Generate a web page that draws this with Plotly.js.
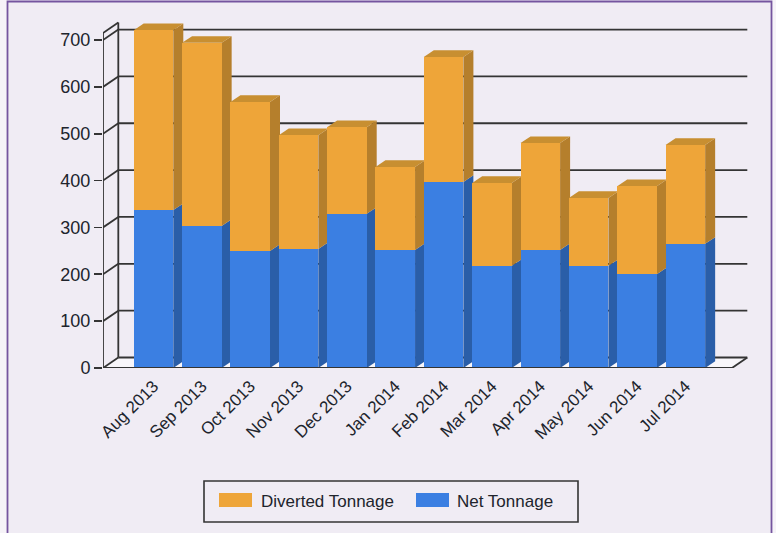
<!DOCTYPE html>
<html>
<head>
<meta charset="utf-8">
<script src="https://cdn.plot.ly/plotly-3.0.1.min.js"></script>
<style>html,body{margin:0;padding:0;background:#f6f3f8;}</style>
</head>
<body>
<div id="chart" style="width:776px;height:533px;"></div>
<script>
// Monthly tonnage, stacked: net at the bottom, diverted on top
const categories = ['Aug 2013','Sep 2013','Oct 2013','Nov 2013','Dec 2013','Jan 2014','Feb 2014','Mar 2014','Apr 2014','May 2014','Jun 2014','Jul 2014'];
const netTonnage = [337,303,250,254,329,252,397,218,252,218,200,265];
const divertedTonnage = [384,391,318,243,185,177,267,177,228,145,188,211];
const valueTicks = [0,100,200,300,400,500,600,700];
const seriesNames = ['Diverted Tonnage','Net Tonnage'];

// Pseudo-3D projection, expressed in axis units
const W = 776, H = 533;
const pitch = 48.35, unit = 0.4685;             // px per category, px per tonne
const left = 103, right = 750, base = 368, topPx = 10;
const xRange = [(left - 153.5) / pitch, (right - 153.5) / pitch];
const yRange = [0, (base - topPx) / unit];
const wallDx = 15.3 / pitch, wallDy = 10.5 / unit;
const barDx = 10 / pitch, barDy = 6.7 / unit;
const barW = 39.6 / pitch;
const xLeft = xRange[0], xFront = (732 - 153.5) / pitch, axisTop = 715;

const ORANGE = '#EEA539', ORANGE_SIDE = '#B57F2C', ORANGE_TOP = '#C88F31';
const BLUE = '#3B7FE2', BLUE_SIDE = '#2A5EA8';
const EDGE = '#343434', TEXT = '#20242c', FLOOR = '#F8F6FA';

// Floor plane, slightly lighter than the panel
const floorPlane = {
  type: 'scatter', mode: 'lines', fill: 'toself', fillcolor: FLOOR,
  x: [xLeft, xLeft + wallDx, xFront + wallDx, xFront, xLeft],
  y: [0, wallDy, wallDy, 0, 0],
  xaxis: 'x', yaxis: 'y', line: { width: 0 }, showlegend: false, hoverinfo: 'skip'
};

// Back wall, floor and the box edges
const fx = [], fy = [];
function seg(x0, y0, x1, y1) { fx.push(x0, x1, null); fy.push(y0, y1, null); }
valueTicks.forEach(v => {
  seg(xLeft, v, xLeft + wallDx, v + wallDy);
  seg(xLeft + wallDx, v + wallDy, xFront + wallDx, v + wallDy);
});
seg(xLeft, 0, xLeft, axisTop);
seg(xLeft + wallDx, wallDy, xLeft + wallDx, axisTop + wallDy);
seg(xLeft, axisTop, xLeft + wallDx, axisTop + wallDy);
seg(xFront, 0, xFront + wallDx, wallDy);

const frame = {
  type: 'scatter', mode: 'lines', x: fx, y: fy, xaxis: 'x', yaxis: 'y',
  line: { color: EDGE, width: 1.8 }, showlegend: false, hoverinfo: 'skip', cliponaxis: false
};

// Side and top faces of one stack segment
function sideFace(i, lo, hi, color) {
  const xr = i + barW / 2;
  return {
    type: 'scatter', mode: 'lines', fill: 'toself', fillcolor: color,
    x: [xr, xr + barDx, xr + barDx, xr, xr],
    y: [lo, lo + barDy, hi + barDy, hi, lo],
    xaxis: 'x', yaxis: 'y', line: { width: 0 }, showlegend: false, hoverinfo: 'skip'
  };
}
function topFace(i, v, color) {
  const xl = i - barW / 2, xr = i + barW / 2;
  return {
    type: 'scatter', mode: 'lines', fill: 'toself', fillcolor: color,
    x: [xl, xl + barDx, xr + barDx, xr, xl],
    y: [v, v + barDy, v + barDy, v, v],
    xaxis: 'x', yaxis: 'y', line: { width: 0 }, showlegend: false, hoverinfo: 'skip'
  };
}
const faces = [];
categories.forEach((c, i) => {
  const n = netTonnage[i], t = n + divertedTonnage[i];
  faces.push(sideFace(i, 0, n, BLUE_SIDE));
  faces.push(sideFace(i, n, t, ORANGE_SIDE));
  faces.push(topFace(i, t, ORANGE_TOP));
});

// Front faces sit on an overlaid subplot so they cover the neighbouring side faces
const netBars = {
  type: 'bar', name: seriesNames[1], x: categories, y: netTonnage, xaxis: 'x2', yaxis: 'y2',
  width: barW, marker: { color: BLUE, line: { width: 0 } }, showlegend: false
};
const divertedBars = {
  type: 'bar', name: seriesNames[0], x: categories, y: divertedTonnage, xaxis: 'x2', yaxis: 'y2',
  width: barW, marker: { color: ORANGE, line: { width: 0 } }, showlegend: false
};

const domX = [left / W, right / W];
const domY = [1 - base / H, 1 - topPx / H];
const FAMILY = 'Liberation Sans, Arial, sans-serif';

// Legend: boxed row with wide swatches
function px(x) { return x / W; }
function py(y) { return 1 - y / H; }
function swatch(x0, color) {
  return { type: 'rect', xref: 'paper', yref: 'paper', x0: px(x0), x1: px(x0 + 33), y0: py(507), y1: py(493),
    fillcolor: color, line: { width: 0 }, layer: 'above' };
}
function legendLabel(x0, text) {
  return { xref: 'paper', yref: 'paper', x: px(x0), y: py(501), xanchor: 'left', yanchor: 'middle',
    text: text, showarrow: false, align: 'left', borderpad: 0,
    font: { family: FAMILY, size: 17, color: TEXT } };
}

const layout = {
  width: W, height: H,
  margin: { l: 0, r: 0, t: 0, b: 0 },
  paper_bgcolor: '#f6f3f8', plot_bgcolor: 'rgba(0,0,0,0)',
  barmode: 'stack',
  showlegend: false,
  xaxis: { domain: domX, range: xRange, visible: false, fixedrange: true },
  yaxis: { domain: domY, range: yRange, visible: false, fixedrange: true },
  xaxis2: {
    domain: domX, range: xRange, overlaying: 'x', anchor: 'y2', type: 'category',
    categoryorder: 'array', categoryarray: categories,
    showgrid: false, zeroline: false, showline: false, ticks: '', tickangle: -45,
    ticklabelstandoff: 4,
    tickfont: { family: FAMILY, size: 17, color: TEXT }, fixedrange: true
  },
  yaxis2: {
    domain: domY, range: yRange, overlaying: 'y', anchor: 'x2',
    tickvals: valueTicks, showgrid: false, zeroline: false, showline: false,
    ticks: 'outside', ticklen: 8, tickwidth: 1.6, tickcolor: EDGE,
    tickfont: { family: FAMILY, size: 18, color: TEXT }, fixedrange: true
  },
  annotations: [legendLabel(260, seriesNames[0]), legendLabel(456, seriesNames[1])],
  shapes: [
    // Panel background with its thin purple edge
    { type: 'rect', xref: 'paper', yref: 'paper', x0: px(7.5), x1: px(771.5), y0: -0.01, y1: py(1.5),
      fillcolor: '#F0ECF4', line: { color: '#75559F', width: 1.8 }, layer: 'below' },
    // Legend frame and swatches
    { type: 'rect', xref: 'paper', yref: 'paper', x0: px(204), x1: px(578), y0: py(522), y1: py(481),
      fillcolor: 'rgba(0,0,0,0)', line: { color: EDGE, width: 1.6 }, layer: 'above' },
    swatch(219, ORANGE),
    swatch(416, BLUE),
    // Front edge of the floor, over the bars
    { type: 'line', xref: 'x', yref: 'y', x0: xLeft, x1: xFront, y0: 0, y1: 0,
      line: { color: EDGE, width: 1.8 }, layer: 'above' }
  ]
};

Plotly.newPlot('chart', [floorPlane, frame].concat(faces, [netBars, divertedBars]), layout, { displayModeBar: false, staticPlot: true });
</script>
</body>
</html>
